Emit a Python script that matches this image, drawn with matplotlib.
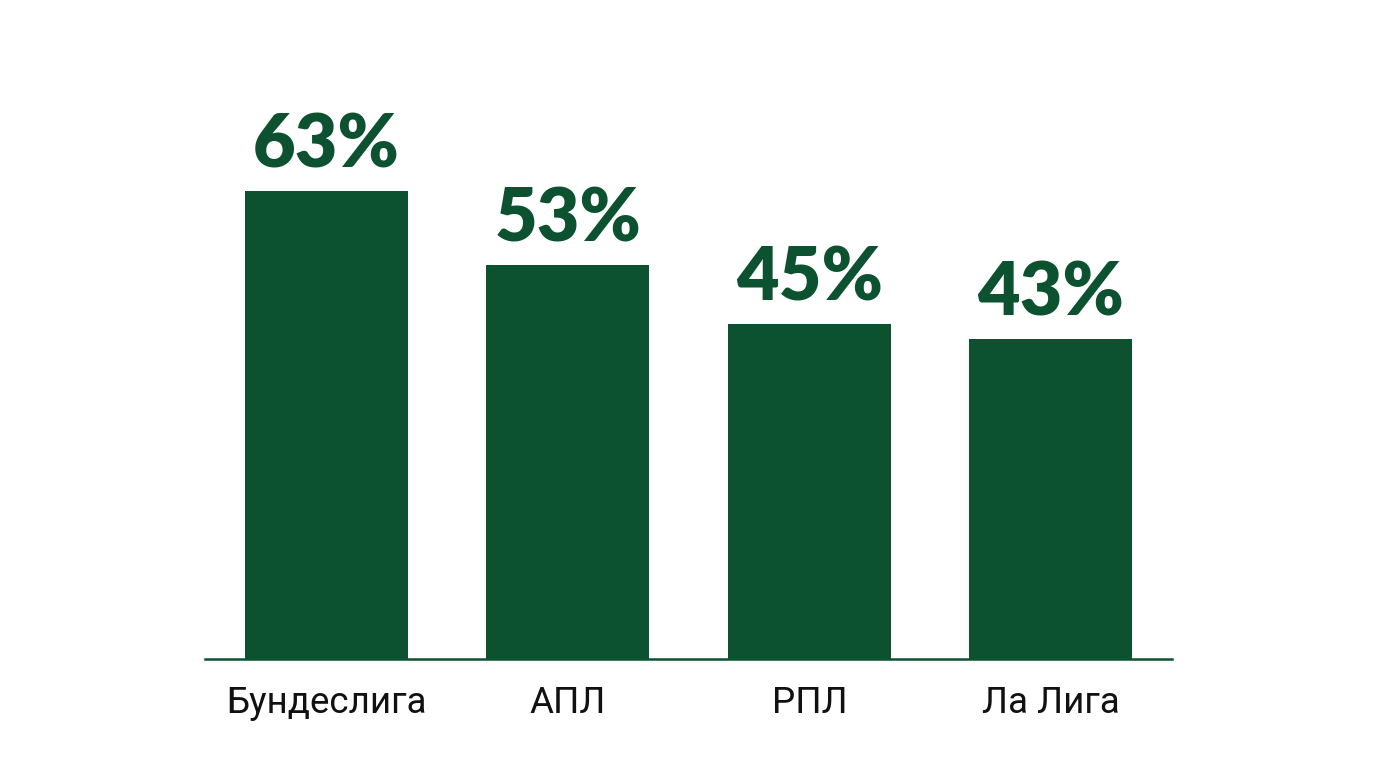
import matplotlib.pyplot as plt

# league names and share values (%)
leagues = ["Бундеслига", "АПЛ", "РПЛ", "Ла Лига"]
shares = [63, 53, 45, 43]

green = "#0d5230"

fig = plt.figure(figsize=(13.76, 7.68), dpi=100)
ax = fig.add_axes([0.149, 0.1419, 0.703, 0.728])

x = range(len(leagues))
bars = ax.bar(x, shares, width=0.675, color=green, zorder=2)

for b, v in zip(bars, shares):
    ax.annotate(f"{v}%", (b.get_x() + b.get_width() / 2, v),
                xytext=(0, 17), textcoords="offset points",
                ha="center", va="baseline", fontsize=53,
                fontweight="heavy", family="Lato", color=green)

ax.set_xlim(-0.503, 3.503)
ax.set_ylim(0, 75.2)
ax.set_xticks(list(x))
ax.set_xticklabels(leagues, family="Roboto", fontsize=26.5, color="#111111")
ax.tick_params(axis="x", length=0, pad=19)
ax.set_yticks([])
for s in ["top", "right", "left"]:
    ax.spines[s].set_visible(False)
ax.spines["bottom"].set_color(green)
ax.spines["bottom"].set_linewidth(1.8)

fig.savefig("out.png", dpi=100)
